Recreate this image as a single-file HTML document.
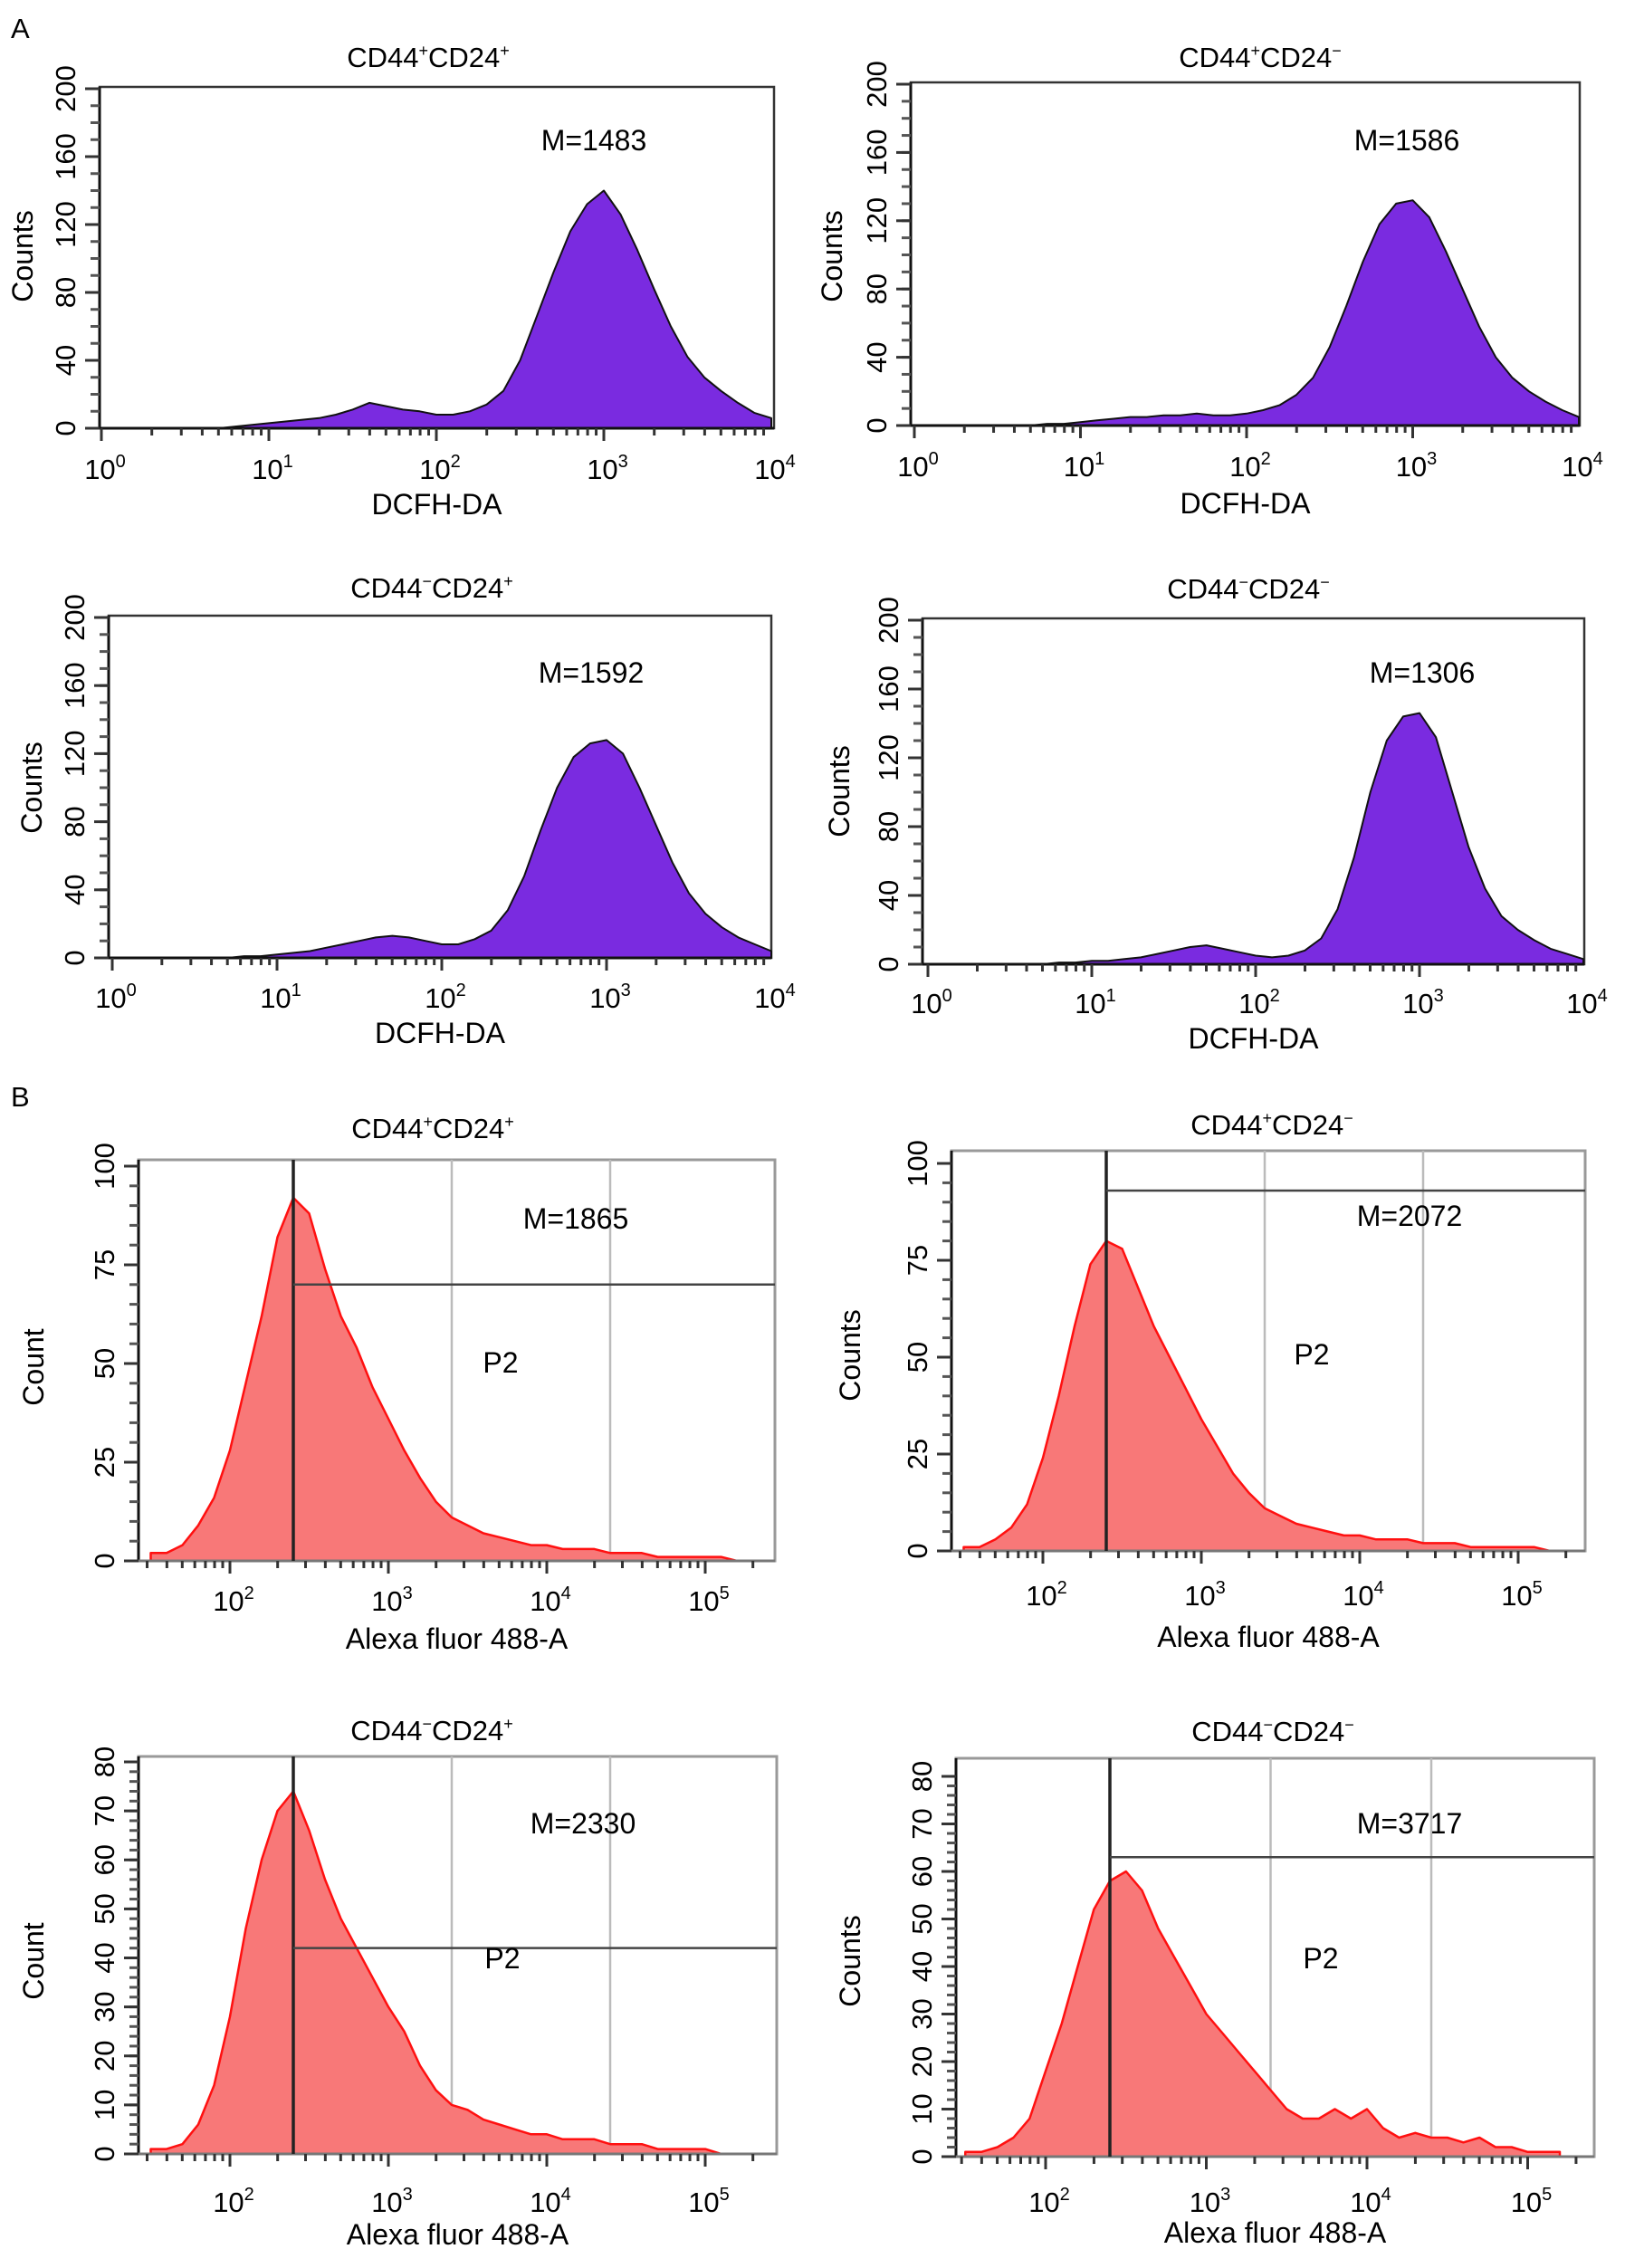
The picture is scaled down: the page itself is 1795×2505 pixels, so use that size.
<!DOCTYPE html>
<html><head><meta charset="utf-8">
<style>
html,body{margin:0;padding:0;background:#fff;}
svg{display:block;font-family:"Liberation Sans",Arial,sans-serif;}
</style></head>
<body>
<svg id="fig" width="1795" height="2505" viewBox="0 0 1795 2505" xmlns="http://www.w3.org/2000/svg">
<text x="12" y="42" font-size="31">A</text>
<text x="12" y="1222" font-size="31">B</text>
</svg>
<script>
// ---- Data: log10 positions and counts ----
const aLogX = [0,0.1,0.2,0.3,0.4,0.5,0.6,0.7,0.8,0.9,1.0,1.1,1.2,1.3,1.4,1.5,1.6,1.7,1.8,1.9,2.0,2.1,2.2,2.3,2.4,2.5,2.6,2.7,2.8,2.9,3.0,3.1,3.2,3.3,3.4,3.5,3.6,3.7,3.8,3.9,4.0];
const a1Counts = [0,0,0,0,0,0,0,0,1,2,3,4,5,6,8,11,15,13,11,10,8,8,10,14,22,40,66,92,116,132,140,126,105,82,60,42,30,22,15,9,6];
const a2Counts = [0,0,0,0,0,0,0,0,1,1,2,3,4,5,5,6,6,7,6,6,7,9,12,18,28,46,70,96,118,130,132,122,102,80,58,40,28,20,14,9,5];
const a3Counts = [0,0,0,0,0,0,0,0,1,1,2,3,4,6,8,10,12,13,12,10,8,8,11,16,28,48,75,100,118,126,128,120,100,78,56,38,26,18,12,8,4];
const a4Counts = [0,0,0,0,0,0,0,0,1,1,2,2,3,4,6,8,10,11,9,7,5,4,5,8,15,32,62,100,130,144,146,132,100,68,44,28,20,14,9,6,3];
const bLogX = [1.5,1.6,1.7,1.8,1.9,2.0,2.1,2.2,2.3,2.4,2.5,2.6,2.7,2.8,2.9,3.0,3.1,3.2,3.3,3.4,3.5,3.6,3.7,3.8,3.9,4.0,4.1,4.2,4.3,4.4,4.5,4.6,4.7,4.8,4.9,5.0,5.1,5.2];
const b1Counts = [2,2,4,9,16,28,45,62,82,92,88,74,62,54,44,36,28,21,15,11,9,7,6,5,4,4,3,3,3,2,2,2,1,1,1,1,1,0];
const b2Counts = [1,1,3,6,12,24,40,58,74,80,78,68,58,50,42,34,27,20,15,11,9,7,6,5,4,4,3,3,3,2,2,2,1,1,1,1,1,0];
const b3Counts = [1,1,2,6,14,28,46,60,70,74,66,56,48,42,36,30,25,18,13,10,9,7,6,5,4,4,3,3,3,2,2,2,1,1,1,1,0,0];
const b4Counts = [1,1,2,4,8,18,28,40,52,58,60,56,48,42,36,30,26,22,18,14,10,8,8,10,8,10,6,4,5,4,4,3,4,2,2,1,1,1];
const aYTicks = [0,40,80,120,160,200];
const bYTicks100 = [0,25,50,75,100];
const bYTicks80 = [0,10,20,30,40,50,60,70,80];
const aXTicks = [0,1,2,3,4];
const bXTicks = [2,3,4,5];

const NS = "http://www.w3.org/2000/svg";
const svg = document.getElementById('fig');
function mk(tag, attrs, parent) {
  const e = document.createElementNS(NS, tag);
  for (const k in attrs) e.setAttribute(k, attrs[k]);
  (parent || svg).appendChild(e);
  return e;
}
function supLabel(g, x, y, base, exp) {
  const t = mk('text', {x: x, y: y, 'font-size': 31, 'text-anchor': 'middle'}, g);
  
  
  t.appendChild(document.createTextNode(base));
  const s = mk('tspan', {'font-size': 20, dy: -13}, t);
  s.textContent = exp;
}
function titleText(g, x, y, sign1, sign2) {
  const t = mk('text', {x: x, y: y, 'font-size': 31, 'text-anchor': 'middle'}, g);
  
  
  t.appendChild(document.createTextNode('CD44'));
  const s1 = mk('tspan', {'font-size': 18, dy: -12}, t); s1.textContent = sign1;
  const s2 = mk('tspan', {dy: 12}, t); s2.textContent = 'CD24';
  const s3 = mk('tspan', {'font-size': 18, dy: -12}, t); s3.textContent = sign2;
}

function panel(c) {
  const g = mk('g', {});
  
  
  const xs = v => c.x0 + (v - c.xt0) * c.dec;
  const ys = v => c.yz - v / c.ymax * (c.yz - c.yt);
  const fr = mk('rect', {x: c.L, y: c.T, width: c.R - c.L, height: c.yz - c.T, fill: 'none', stroke: c.type === 'A' ? '#333' : '#999', 'stroke-width': c.type === 'A' ? 2.5 : 3}, g);
  
  
  if (c.type === 'B') {
    c.grid.forEach(v => {
      const l = mk('line', {x1: xs(v), x2: xs(v), y1: c.T, y2: c.yz, stroke: '#bbb', 'stroke-width': 2.5}, g);
      
      
    });
  }
  let d = 'M' + xs(c.lx[0]) + ',' + c.yz;
  c.vals.forEach((v, i) => { d += ' L' + xs(c.lx[i]).toFixed(1) + ',' + ys(v).toFixed(1); });
  d += ' L' + xs(c.lx[c.lx.length - 1]) + ',' + c.yz + ' Z';
  const h = mk('path', {d: d, fill: c.type === 'A' ? '#7a2be0' : '#f87878', stroke: c.type === 'A' ? '#111' : '#ff1010', 'stroke-width': c.type === 'A' ? 2 : 2.5, 'stroke-linejoin': 'round'}, g);
  
  
  mk('line', {x1: c.L, x2: c.L, y1: c.T, y2: c.yz, stroke: '#111', 'stroke-width': 3}, g);
  mk('line', {x1: c.L, x2: c.R, y1: c.yz, y2: c.yz, stroke: c.type === 'A' ? '#111' : '#777', 'stroke-width': 3}, g);
  for (let dec = Math.floor(c.xmin); dec < c.xmax; dec++) {
    for (let m = 1; m <= 9; m++) {
      const lv = dec + Math.log10(m);
      if (lv < c.xmin || lv > c.xmax) continue;
      const x = xs(lv);
      mk('line', {x1: x, x2: x, y1: c.yz, y2: c.yz + (m === 1 ? 14 : 8), stroke: '#333', 'stroke-width': 3}, g);
    }
  }
  c.xticks.forEach(v => supLabel(g, xs(v) + 4, c.labY, '10', String(v)));
  const step = c.minor;
  for (let v = 0; v <= c.ymax + 0.01; v += step) {
    const y = ys(v);
    mk('line', {x1: c.L - 10, x2: c.L, y1: y, y2: y, stroke: '#555', 'stroke-width': 3}, g);
  }
  c.yticks.forEach(v => {
    const y = ys(v);
    mk('line', {x1: c.L - 16, x2: c.L, y1: y, y2: y, stroke: '#333', 'stroke-width': 3}, g);
    const t = mk('text', {x: 0, y: 0, 'font-size': 31, 'text-anchor': 'middle', transform: 'translate(' + (c.L - 27) + ',' + y + ') rotate(-90)'}, g);
    
    
    t.textContent = v;
  });
  if (c.type === 'B') {
    const gx = xs(c.gate);
    const gl = mk('line', {x1: gx, x2: gx, y1: c.T, y2: c.yz, stroke: '#222', 'stroke-width': 3.5}, g);
    
    
    const hl = mk('line', {x1: gx, x2: c.R, y1: ys(c.gateY), y2: ys(c.gateY), stroke: '#444', 'stroke-width': 2.5}, g);
    
    
    const p2 = mk('text', {x: c.p2[0], y: c.p2[1], 'font-size': 32, 'text-anchor': 'middle'}, g);
    
    
    p2.textContent = 'P2';
  }
  const mt = mk('text', {x: c.M[0], y: c.M[1], 'font-size': 32, 'text-anchor': 'middle'}, g);
  
  
  mt.textContent = c.mtext;
  titleText(g, c.title[0], c.title[1], c.s1, c.s2);
  const xt = mk('text', {x: (c.L + c.R) / 2, y: c.xtY, 'font-size': 32, 'text-anchor': 'middle'}, g);
  
  
  xt.textContent = c.xtitle;
  const yt = mk('text', {x: 0, y: 0, 'font-size': 32, 'text-anchor': 'middle', transform: 'translate(' + c.ytX + ',' + c.ytY + ') rotate(-90)'}, g);
  
  
  yt.textContent = c.ytitle;
}

const plus = '+', minus = '\u2212';
panel({name:'panel-a1', type:'A', L:110, R:855, T:96, yz:473, x0:112, xt0:0, dec:185, xmin:0, xmax:4, ymax:200, yt:98, yticks:aYTicks, minor:10, xticks:aXTicks, lx:aLogX, vals:a1Counts, labY:529, xtY:568, ytX:36, ytY:283, M:[656,166], mtext:'M=1483', title:[473,74], s1:plus, s2:plus, xtitle:'DCFH-DA', ytitle:'Counts'});
panel({name:'panel-a2', type:'A', L:1006, R:1745, T:91, yz:470, x0:1010, xt0:0, dec:183.5, xmin:0, xmax:4, ymax:200, yt:93, yticks:aYTicks, minor:10, xticks:aXTicks, lx:aLogX, vals:a2Counts, labY:526, xtY:567, ytX:930, ytY:283, M:[1554,166], mtext:'M=1586', title:[1392,74], s1:plus, s2:minus, xtitle:'DCFH-DA', ytitle:'Counts'});
panel({name:'panel-a3', type:'A', L:120, R:852, T:680, yz:1058, x0:124, xt0:0, dec:182, xmin:0, xmax:4, ymax:200, yt:682, yticks:aYTicks, minor:10, xticks:aXTicks, lx:aLogX, vals:a3Counts, labY:1113, xtY:1152, ytX:46, ytY:870, M:[653,754], mtext:'M=1592', title:[477,660], s1:minus, s2:plus, xtitle:'DCFH-DA', ytitle:'Counts'});
panel({name:'panel-a4', type:'A', L:1019, R:1750, T:683, yz:1065, x0:1025, xt0:0, dec:181, xmin:0, xmax:4, ymax:200, yt:685, yticks:aYTicks, minor:10, xticks:aXTicks, lx:aLogX, vals:a4Counts, labY:1119, xtY:1158, ytX:938, ytY:874, M:[1571,754], mtext:'M=1306', title:[1379,661], s1:minus, s2:minus, xtitle:'DCFH-DA', ytitle:'Counts'});
panel({name:'panel-b1', type:'B', L:153, R:856, T:1281, yz:1724, x0:254, xt0:2, dec:175, xmin:1.42, xmax:5.42, ymax:100, yt:1288, yticks:bYTicks100, minor:5, xticks:bXTicks, lx:bLogX, vals:b1Counts, labY:1779, xtY:1821, ytX:48, ytY:1510, M:[636,1357], mtext:'M=1865', title:[478,1257], s1:plus, s2:plus, xtitle:'Alexa fluor 488-A', ytitle:'Count', grid:[2.4,3.4,4.4], gate:2.4, gateY:70, p2:[553,1516]});
panel({name:'panel-b2', type:'B', L:1051, R:1751, T:1271, yz:1713, x0:1152, xt0:2, dec:175, xmin:1.42, xmax:5.42, ymax:100, yt:1285, yticks:bYTicks100, minor:5, xticks:bXTicks, lx:bLogX, vals:b2Counts, labY:1773, xtY:1819, ytX:950, ytY:1497, M:[1557,1354], mtext:'M=2072', title:[1405,1253], s1:plus, s2:minus, xtitle:'Alexa fluor 488-A', ytitle:'Counts', grid:[2.4,3.4,4.4], gate:2.4, gateY:93, p2:[1449,1507]});
panel({name:'panel-b3', type:'B', L:153, R:858, T:1940, yz:2379, x0:254, xt0:2, dec:175, xmin:1.42, xmax:5.42, ymax:80, yt:1946, yticks:bYTicks80, minor:2, xticks:bXTicks, lx:bLogX, vals:b3Counts, labY:2443, xtY:2479, ytX:48, ytY:2166, M:[644,2025], mtext:'M=2330', title:[477,1922], s1:minus, s2:plus, xtitle:'Alexa fluor 488-A', ytitle:'Count', grid:[2.4,3.4,4.4], gate:2.4, gateY:42, p2:[555,2174]});
panel({name:'panel-b4', type:'B', L:1056, R:1761, T:1942, yz:2382, x0:1155, xt0:2, dec:177.5, xmin:1.42, xmax:5.42, ymax:80, yt:1962, yticks:bYTicks80, minor:2, xticks:bXTicks, lx:bLogX, vals:b4Counts, labY:2443, xtY:2477, ytX:950, ytY:2166, M:[1557,2025], mtext:'M=3717', title:[1406,1923], s1:minus, s2:minus, xtitle:'Alexa fluor 488-A', ytitle:'Counts', grid:[2.4,3.4,4.4], gate:2.4, gateY:63, p2:[1459,2174]});
</script>
</body></html>
